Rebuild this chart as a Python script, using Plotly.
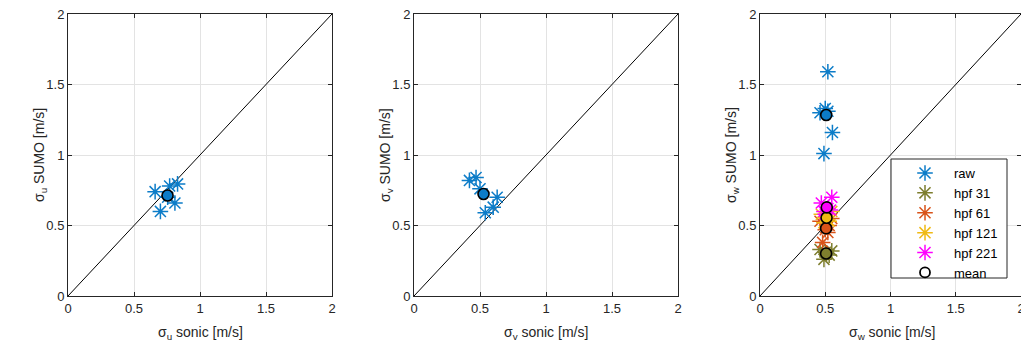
import numpy as np
import plotly.graph_objects as go

# ---- data ----
u_sonic = [0.66, 0.77, 0.83, 0.81, 0.70, 0.755]
u_sumo = [0.74, 0.78, 0.795, 0.66, 0.60, 0.70]

v_sonic = [0.42, 0.47, 0.50, 0.63, 0.60, 0.54]
v_sumo = [0.82, 0.84, 0.76, 0.70, 0.63, 0.59]

w_raw_sonic = [0.52, 0.50, 0.46, 0.555, 0.49, 0.52]
w_raw_sumo = [1.59, 1.33, 1.30, 1.16, 1.01, 1.31]
w_hpf31_sonic = [0.46, 0.55, 0.49, 0.51, 0.53, 0.50]
w_hpf31_sumo = [0.33, 0.32, 0.26, 0.30, 0.29, 0.31]
w_hpf61_sonic = [0.46, 0.55, 0.48, 0.52, 0.50, 0.53]
w_hpf61_sumo = [0.53, 0.55, 0.38, 0.45, 0.47, 0.50]
w_hpf121_sonic = [0.47, 0.55, 0.49, 0.52, 0.50, 0.53]
w_hpf121_sumo = [0.58, 0.60, 0.52, 0.54, 0.56, 0.53]
w_hpf221_sonic = [0.47, 0.55, 0.49, 0.52, 0.50, 0.54]
w_hpf221_sumo = [0.66, 0.70, 0.60, 0.62, 0.58, 0.61]

series_names = ["raw", "hpf 31", "hpf 61", "hpf 121", "hpf 221"]
colors = ["#0c7cc8", "#7E7E2E", "#D95319", "#F0BA14", "#FF00FF"]
diag = [0, 2]
ticks = [0, 0.5, 1, 1.5, 2]
tick_text = ["0", "0.5", "1", "1.5", "2"]
x_titles = ["σ<sub>u</sub> sonic [m/s]", "σ<sub>v</sub> sonic [m/s]", "σ<sub>w</sub> sonic [m/s]"]
y_titles = ["σ<sub>u</sub> SUMO [m/s]", "σ<sub>v</sub> SUMO [m/s]", "σ<sub>w</sub> SUMO [m/s]"]

W = 1021.0
H = 349.0
T, B = 14, 53
PH = H - T - B
FONT = "Liberation Sans, Arial, sans-serif"
TXT = "#262626"

fig = go.Figure()


def star(x, y, color, ax, name=None, legend=False):
    fig.add_trace(go.Scatter(
        x=x, y=y, mode="markers", name=name, showlegend=legend,
        xaxis=ax[0], yaxis=ax[1],
        marker=dict(symbol="asterisk-open", size=13, color=color,
                    line=dict(color=color, width=1.5))))


def mean_marker(x, y, color, ax):
    fig.add_trace(go.Scatter(
        x=[float(np.mean(x))], y=[float(np.mean(y))], mode="markers", showlegend=False,
        xaxis=ax[0], yaxis=ax[1],
        marker=dict(symbol="circle", size=11, color=color,
                    line=dict(color="black", width=1.6))))


def diag_line(ax):
    fig.add_trace(go.Scatter(x=diag, y=diag, mode="lines", showlegend=False,
                             xaxis=ax[0], yaxis=ax[1],
                             line=dict(color="black", width=1)))


# panel 1
diag_line(("x", "y"))
star(u_sonic, u_sumo, colors[0], ("x", "y"))
mean_marker(u_sonic, u_sumo, colors[0], ("x", "y"))

# panel 2
diag_line(("x2", "y2"))
star(v_sonic, v_sumo, colors[0], ("x2", "y2"))
mean_marker(v_sonic, v_sumo, colors[0], ("x2", "y2"))

# panel 3
diag_line(("x3", "y3"))
w_sets = [(w_raw_sonic, w_raw_sumo), (w_hpf31_sonic, w_hpf31_sumo),
          (w_hpf61_sonic, w_hpf61_sumo), (w_hpf121_sonic, w_hpf121_sumo),
          (w_hpf221_sonic, w_hpf221_sumo)]
for (sx, sy), c, n in zip(w_sets, colors, series_names):
    star(sx, sy, c, ("x3", "y3"), name=n, legend=True)
for (sx, sy), c in zip(w_sets, colors):
    mean_marker(sx, sy, c, ("x3", "y3"))
fig.add_trace(go.Scatter(x=[None], y=[None], mode="markers", name="mean",
                         xaxis="x3", yaxis="y3",
                         marker=dict(symbol="circle-open", size=10, color="black",
                                     line=dict(color="black", width=1.8))))

axis_common = dict(range=[0, 2], tickvals=ticks, ticktext=tick_text,
                   showgrid=True, gridcolor="#e3e3e3", gridwidth=1,
                   showline=True, linecolor=TXT, linewidth=1, mirror="ticks",
                   ticks="inside", ticklen=4, tickcolor=TXT, automargin=False,
                   zeroline=False, tickfont=dict(size=13, color=TXT, family=FONT),
                   fixedrange=True)

doms = [(68 / W, 332 / W), (414 / W, 678 / W), (760 / W, 1.0)]
layout = {}
annotations = []
for i, d in enumerate(doms):
    sfx = "" if i == 0 else str(i + 1)
    layout["xaxis" + sfx] = dict(axis_common, domain=list(d), anchor="y" + sfx,
                                ticklabeloverflow="allow")
    layout["yaxis" + sfx] = dict(axis_common, domain=[0, 1], anchor="x" + sfx)
    xc = (d[0] * W + 264 / 2) / W
    annotations.append(dict(text=x_titles[i], xref="paper", yref="paper",
                            x=xc, y=(H - B - 333) / PH, xanchor="center", yanchor="middle",
                            showarrow=False, font=dict(size=14, color=TXT, family=FONT)))
    annotations.append(dict(text=y_titles[i], xref="paper", yref="paper",
                            x=(d[0] * W - 28) / W, y=0.5, xanchor="center", yanchor="middle",
                            textangle=-90, showarrow=False,
                            font=dict(size=14, color=TXT, family=FONT)))

# legend frame
shapes = [dict(type="rect", xref="paper", yref="paper",
               x0=891 / W, x1=1007 / W, y0=(H - B - 278) / PH, y1=(H - B - 159) / PH,
               line=dict(color=TXT, width=1), fillcolor="white", layer="above")]

fig.update_layout(
    width=1021, height=349,
    margin=dict(l=0, r=0, t=T, b=B, autoexpand=False),
    paper_bgcolor="white", plot_bgcolor="white",
    font=dict(family=FONT, size=13, color=TXT),
    showlegend=True,
    legend=dict(x=896 / W, y=(H - B - 158) / PH,
                xanchor="left", yanchor="top",
                bgcolor="rgba(0,0,0,0)", borderwidth=0,
                font=dict(size=13, color="black", family=FONT),
                itemwidth=48, tracegroupgap=0),
    shapes=shapes,
    annotations=annotations,
    **layout)

fig.write_html("out.html")
